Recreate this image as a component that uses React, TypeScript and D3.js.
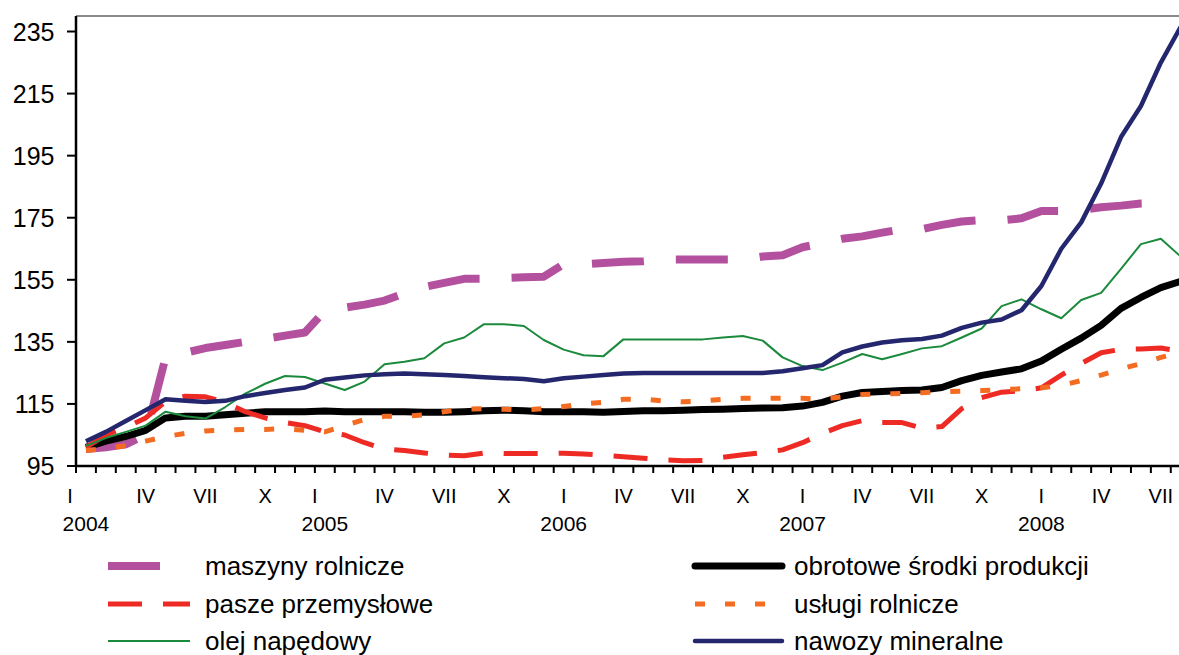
import React from "react";
import * as d3 from "d3";

// ---- DATA ----
const years = [2004, 2005, 2006, 2007, 2008];
const romanMonths = ["I", "II", "III", "IV", "V", "VI", "VII", "VIII", "IX", "X", "XI", "XII"];
const labelledMonths = ["I", "IV", "VII", "X"];
const monthCount = 56; // I 2004 – VIII 2008
const yTicks = [95, 115, 135, 155, 175, 195, 215, 235];

const maszynyRolnicze = [
  100.5, 101, 102, 105, 130, 131.5, 133, 134, 135, 136, 137, 138,
  145, 146, 147, 148.3, 150.6, 152.7, 154, 155.3, 155.3, 155.6, 155.8, 156,
  160, 160, 160.4, 160.8, 161, 161.5, 161.5, 161.5, 161.5, 161.5, 162.5, 162.9,
  165.5, 166.8, 168.2, 169, 170.2, 171.3, 171.3, 172.7, 173.8, 174.2, 174.2, 174.8,
  177.2, 177.2, 177.5, 178.4, 178.9, 179.6, 179.8,
];
const obrotoweSrodki = [
  101, 103, 104.5, 106.5, 110.5, 111, 111, 111.5, 112, 112.5, 112.5, 112.5,
  112.7, 112.5, 112.5, 112.5, 112.5, 112.3, 112.3, 112.5, 112.8, 113, 112.8, 112.5,
  112.5, 112.5, 112.3, 112.6, 112.8, 112.8, 113, 113.2, 113.3, 113.5, 113.7, 113.8,
  114.3, 115.5, 117.5, 118.7, 119, 119.3, 119.5, 120.3, 122.5, 124.2, 125.3, 126.3,
  128.8, 132.6, 136.2, 140.3, 145.8, 149.3, 152.5, 154.5,
];
const paszePrzemyslowe = [
  101, 105, 107.5, 110.5, 115.7, 117.5, 117.3, 115.5, 112.5, 110.5, 109, 108,
  106, 105, 102.5, 100.5, 100, 99.2, 98.5, 98.3, 99.2, 99, 99, 99,
  99.1, 98.9, 98.4, 98, 97.5, 97, 96.7, 96.8, 97.8, 98.6, 99.3, 100.2,
  102.5, 105.5, 108, 109.6, 109, 109, 107.2, 107.7, 113.5, 117, 118.8, 119.2,
  120.2, 124.3, 128, 131.5, 132.6, 132.7, 133, 132,
];
const uslugiRolnicze = [
  100, 100.7, 101.5, 103, 104.5, 105.5, 106.3, 106.6, 106.8, 106.8, 107, 106.5,
  106, 108, 110, 111, 111, 111.5, 112.5, 113.3, 113.5, 113.3, 113, 113.5,
  114.2, 115, 115.5, 116.5, 116.5, 116, 115.7, 116, 116.5, 116.8, 116.8, 116.8,
  116.8, 116.5, 117.3, 118, 118.2, 118.4, 118.6, 118.9, 119.1, 119.3, 119.6, 119.9,
  120.2, 121, 122.5, 124.3, 126.3, 128, 130, 131.5,
];
const olejNapedowy = [
  101.5, 104, 106, 108, 112.5, 111, 110.3, 114, 118.3, 121.5, 124, 123.7,
  121.6, 119.5, 122.2, 127.8, 128.6, 129.7, 134.5, 136.4, 140.7, 140.7, 140.1, 135.6,
  132.5, 130.7, 130.4, 135.8, 135.8, 135.8, 135.8, 135.8, 136.4, 136.9, 135.4, 130,
  127.2, 125.9, 128.3, 131.1, 129.4, 131.1, 132.9, 133.6, 136.4, 139.3, 146.5, 148.7,
  145.5, 142.6, 148.5, 150.8, 158.5, 166.5, 168.2, 162.5,
];
const nawozyMineralne = [
  103, 106, 109.5, 113, 116.5, 116, 115.6, 116, 117.5, 118.5, 119.5, 120.3,
  122.8, 123.5, 124.2, 124.6, 124.8, 124.6, 124.3, 124, 123.6, 123.3, 123, 122.3,
  123.3, 123.8, 124.3, 124.8, 125, 125, 125, 125, 125, 125, 125, 125.5,
  126.5, 127.5, 131.6, 133.5, 134.8, 135.5, 135.9, 137, 139.5, 141.2, 142.2, 145.2,
  153, 165, 173.5, 186, 201, 211, 225, 236.5,
];

const seriesNames = [
  "maszyny rolnicze",
  "obrotowe środki produkcji",
  "pasze przemysłowe",
  "usługi rolnicze",
  "olej napędowy",
  "nawozy mineralne",
];

// ---- STYLES ----
const FONT = "'Liberation Sans', Arial, sans-serif";
const styles: Record<string, { color: string; width: number; dash?: string }> = {
  "maszyny rolnicze": { color: "#B4519F", width: 8, dash: "52 32" },
  "obrotowe środki produkcji": { color: "#000000", width: 7 },
  "pasze przemysłowe": { color: "#EE2A24", width: 5, dash: "34 21" },
  "usługi rolnicze": { color: "#F36C22", width: 5, dash: "10 20" },
  "olej napędowy": { color: "#1B8A3C", width: 2 },
  "nawozy mineralne": { color: "#24276E", width: 4.5 },
};

export default function App() {
  const W = 1179;
  const H = 655;
  const left = 76;
  const step = 19.905;
  const top = 16;
  const bottom = 466;

  const categories = d3.range(monthCount).map((i) => ({
    year: years[Math.floor(i / 12)],
    month: romanMonths[i % 12],
  }));

  const x = d3
    .scaleBand<number>()
    .domain(d3.range(monthCount))
    .range([left, left + monthCount * step])
    .paddingInner(0)
    .paddingOuter(0);
  const cx = (i: number) => (x(i) as number) + x.bandwidth() / 2;
  const y = d3.scaleLinear().domain([95, 240]).range([bottom, top]);

  const lineGen = d3
    .line<number>()
    .x((_, i) => cx(i))
    .y((v) => y(v));

  const dataByName: Record<string, number[]> = {
    "maszyny rolnicze": maszynyRolnicze,
    "obrotowe środki produkcji": obrotoweSrodki,
    "pasze przemysłowe": paszePrzemyslowe,
    "usługi rolnicze": uslugiRolnicze,
    "olej napędowy": olejNapedowy,
    "nawozy mineralne": nawozyMineralne,
  };

  // Excel label quirk for the first two "I" labels
  const labelShift = (i: number) => (i === 0 ? -16 : i === 12 ? -10 : 0);

  const legendLeft = ["maszyny rolnicze", "pasze przemysłowe", "olej napędowy"];
  const legendRight = ["obrotowe środki produkcji", "usługi rolnicze", "nawozy mineralne"];
  const legendRows = [566, 604, 641];

  const renderLegend = (names: string[], x1: number, x2: number, tx: number) =>
    names.map((n, r) => {
      const s = styles[n];
      const solid = !s.dash;
      return (
        <g key={n}>
          <line
            x1={x1}
            x2={x2}
            y1={legendRows[r]}
            y2={legendRows[r]}
            stroke={s.color}
            strokeWidth={s.width}
            strokeDasharray={s.dash}
            strokeLinecap={solid && s.width > 3 ? "round" : "butt"}
          />
          <text x={tx} y={legendRows[r] + 9} fontSize={26} fontFamily={FONT} fill="#000">
            {n}
          </text>
        </g>
      );
    });

  return (
    <svg
      width={W}
      height={H}
      style={{ position: "absolute", left: 0, top: 0, background: "#fff" }}
    >
      <rect x={0} y={0} width={W} height={H} fill="#fff" />
      {/* top border */}
      <line x1={left} x2={W} y1={top} y2={top} stroke="#8a8a8a" strokeWidth={2} />

      {/* series */}
      {seriesNames.map((n) => {
        const s = styles[n];
        return (
          <path
            key={n}
            d={lineGen(dataByName[n]) || ""}
            fill="none"
            stroke={s.color}
            strokeWidth={s.width}
            strokeDasharray={s.dash}
            strokeLinejoin="round"
            strokeLinecap="butt"
          />
        );
      })}

      {/* y axis */}
      <line x1={left} x2={left} y1={top} y2={bottom} stroke="#000" strokeWidth={2.5} />
      {yTicks.map((t) => (
        <g key={t}>
          <line x1={left - 9} x2={left} y1={y(t)} y2={y(t)} stroke="#000" strokeWidth={2} />
          <text
            x={54.5}
            y={y(t) + 9}
            textAnchor="end"
            fontSize={25}
            fontFamily={FONT}
            fill="#000"
          >
            {t}
          </text>
        </g>
      ))}

      {/* x axis */}
      <line x1={left} x2={W} y1={bottom} y2={bottom} stroke="#000" strokeWidth={2.5} />
      {d3.range(monthCount + 1).map((k) => (
        <line
          key={k}
          x1={left + k * x.bandwidth()}
          x2={left + k * x.bandwidth()}
          y1={bottom}
          y2={bottom + 7}
          stroke="#000"
          strokeWidth={2}
        />
      ))}
      {categories.map((c, i) =>
        labelledMonths.includes(c.month) ? (
          <text
            key={"m" + i}
            x={cx(i) + labelShift(i)}
            y={503}
            textAnchor="middle"
            fontSize={20}
            fontFamily={FONT}
            fill="#000"
          >
            {c.month}
          </text>
        ) : null
      )}
      {categories.map((c, i) =>
        c.month === "I" ? (
          <text
            key={"y" + i}
            x={cx(i)}
            y={531}
            textAnchor="middle"
            fontSize={21}
            fontFamily={FONT}
            fill="#000"
          >
            {c.year}
          </text>
        ) : null
      )}

      {/* legend */}
      {renderLegend(legendLeft, 108, 190, 205)}
      {renderLegend(legendRight, 695, 782, 794)}
    </svg>
  );
}
